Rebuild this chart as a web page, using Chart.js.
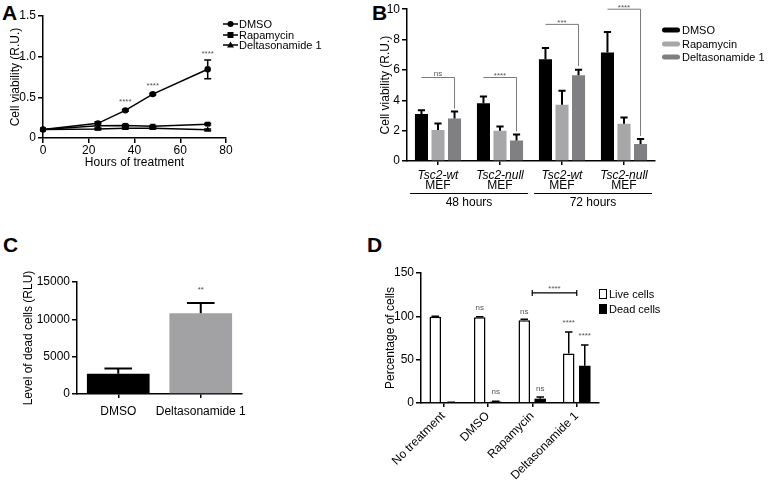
<!DOCTYPE html>
<html>
<head>
<meta charset="utf-8">
<script src="https://cdn.jsdelivr.net/npm/chart.js@4.4.0/dist/chart.umd.min.js"></script>
<style>
  html, body { margin: 0; padding: 0; background: #fff; }
  body { width: 768px; height: 481px; position: relative; overflow: hidden;
         font-family: 'Liberation Sans', Arial, Helvetica, sans-serif; color: #000; }
  canvas { position: absolute; }
  .letter { position: absolute; font-weight: bold; font-size: 21px; line-height: 1; }
  .lg { position: absolute; font-size: 11px; height: 12px; line-height: 12px; white-space: nowrap; }
  .lg svg { position: absolute; left: 0; top: 0; }
  .lg span { position: absolute; top: 0; }
</style>
</head>
<body>

<div class="letter" style="left:2px;top:2px">A</div>
<div class="letter" style="left:372px;top:2px">B</div>
<div class="letter" style="left:3px;top:234px">C</div>
<div class="letter" style="left:367px;top:234px">D</div>

<canvas id="chartA" width="370" height="172" style="left:0;top:0"></canvas>
<canvas id="chartB" width="398" height="215" style="left:370px;top:0"></canvas>
<canvas id="chartC" width="370" height="200" style="left:0;top:230px"></canvas>
<canvas id="chartD" width="398" height="251" style="left:370px;top:230px"></canvas>

<!-- legend A -->
<div class="lg" style="left:223px;top:18px">
  <svg width="16" height="12"><line x1="0" y1="6" x2="15" y2="6" stroke="#000" stroke-width="1.5"/><circle cx="7.5" cy="6" r="3" fill="#000"/></svg>
  <span style="left:16px">DMSO</span>
</div>
<div class="lg" style="left:223px;top:28.5px">
  <svg width="16" height="12"><line x1="0" y1="6" x2="15" y2="6" stroke="#000" stroke-width="1.5"/><rect x="4.5" y="3" width="6" height="6" fill="#000"/></svg>
  <span style="left:16px">Rapamycin</span>
</div>
<div class="lg" style="left:223px;top:39px">
  <svg width="16" height="12"><line x1="0" y1="6" x2="15" y2="6" stroke="#000" stroke-width="1.5"/><polygon points="7.5,2.5 11,8.5 4,8.5" fill="#000"/></svg>
  <span style="left:16px">Deltasonamide 1</span>
</div>

<!-- legend B -->
<div class="lg" style="left:662px;top:24px">
  <svg width="19" height="12"><rect x="0" y="3.5" width="18" height="5" rx="2.5" fill="#000"/></svg>
  <span style="left:20px">DMSO</span>
</div>
<div class="lg" style="left:662px;top:37.5px">
  <svg width="19" height="12"><rect x="0" y="3.5" width="18" height="5" rx="2.5" fill="#a7a7aa"/></svg>
  <span style="left:20px">Rapamycin</span>
</div>
<div class="lg" style="left:662px;top:51px">
  <svg width="19" height="12"><rect x="0" y="3.5" width="18" height="5" rx="2.5" fill="#808083"/></svg>
  <span style="left:20px">Deltasonamide 1</span>
</div>

<!-- legend D -->
<div class="lg" style="left:599px;top:288px">
  <svg width="9" height="12"><rect x="0.5" y="1.5" width="7" height="9" fill="#fff" stroke="#000" stroke-width="1"/></svg>
  <span style="left:10px">Live cells</span>
</div>
<div class="lg" style="left:599px;top:303px">
  <svg width="9" height="12"><rect x="0" y="1" width="8" height="10" fill="#000"/></svg>
  <span style="left:10px">Dead cells</span>
</div>

<script>
// ---- panel A: viability over time ----
const hoursA = [0, 24, 36, 48, 72];
const dmsoA = [0.105, 0.18, 0.34, 0.54, 0.845];
const dmsoErrA = [0, 0.02, 0.01, 0.01, 0.115];
const rapaA = [0.105, 0.15, 0.155, 0.145, 0.17];
const rapaErrA = [0, 0.03, 0.01, 0.01, 0.01];
const deltaA = [0.105, 0.11, 0.12, 0.12, 0.10];
const deltaErrA = [0, 0.01, 0.01, 0.01, 0.01];
const starsA = ['', '', '****', '****', '****'];
const starsYA = [null, null, 0.48, 0.67, 1.07];

// ---- panel B: viability per cell line ----
const cellLinesB = ['Tsc2-wt', 'Tsc2-null', 'Tsc2-wt', 'Tsc2-null'];
const sublabelB = 'MEF';
const timeLabelsB = ['48 hours', '72 hours'];
const timeSpanB = [[0, 1], [2, 3]];
const dmsoB = [3.1, 3.8, 6.7, 7.15];
const dmsoErrB = [0.25, 0.45, 0.75, 1.35];
const rapaB = [2.05, 2.0, 3.7, 2.45];
const rapaErrB = [0.42, 0.28, 0.92, 0.42];
const deltaB = [2.8, 1.35, 5.65, 1.12];
const deltaErrB = [0.46, 0.4, 0.36, 0.33];
const sigTextB = ['ns', '****', '***', '****'];
const sigYB = [5.5, 5.5, 9.0, 10.0];
const sigDropB = [3.45, 1.95, 6.25, 1.65];

// ---- panel C: dead cells ----
const catsC = ['DMSO', 'Deltasonamide 1'];
const deadC = [2700, 10800];
const deadErrC = [700, 1400];
const starsC = ['', '**'];
const starsYC = [null, 14300];

// ---- panel D: live / dead percentage ----
const treatmentsD = ['No treatment', 'DMSO', 'Rapamycin', 'Deltasonamide 1'];
const liveD = [99.5, 99, 95.5, 57];
const liveErrD = [0.5, 0.6, 1.2, 25];
const deadD = [0.6, 1.5, 5, 43];
const deadErrD = [0.3, 0.6, 1.8, 24];
const liveSigD = ['', 'ns', 'ns', '****'];
const liveSigYD = [null, 110, 105.5, 94.7];
const deadSigD = ['', 'ns', 'ns', '****'];
const deadSigYD = [null, 12.8, 16.6, 80.4];
const bracketIdxD = [2, 3];
const bracketYD = 127;
const bracketTextD = '****';
const bracketTextYD = 135;

const FONT = "'Liberation Sans', Arial, Helvetica, sans-serif";
Chart.defaults.font.family = FONT;
Chart.defaults.color = '#000';
Chart.defaults.animation = false;
Chart.defaults.plugins.legend.display = false;
Chart.defaults.plugins.tooltip.enabled = false;

// small grey significance text, centred on yc
function sigText(ctx, text, x, yc, size, color) {
    ctx.save();
    ctx.font = size + 'px ' + FONT;
    ctx.fillStyle = color || '#555';
    ctx.textAlign = 'center';
    ctx.textBaseline = 'alphabetic';
    const shift = text.indexOf('*') >= 0 ? 0.57 : 0.26;
    ctx.fillText(text, x, yc + shift * size);
    ctx.restore();
}

// error bars, drawn from the library's scale
const errorBars = {
    id: 'errorBars',
    afterDatasetsDraw(chart, args, opts) {
        const ctx = chart.ctx;
        const ys = chart.scales.y;
        ctx.save();
        ctx.strokeStyle = '#000';
        ctx.lineWidth = opts.lineWidth || 1.5;
        chart.data.datasets.forEach((ds, di) => {
            if (!ds.errors) return;
            const meta = chart.getDatasetMeta(di);
            meta.data.forEach((el, i) => {
                const raw = ds.data[i];
                const val = typeof raw === 'object' ? raw.y : raw;
                const e = ds.errors[i];
                if (!e) return;
                const top = ys.getPixelForValue(val + e);
                const bot = opts.both ? ys.getPixelForValue(val - e) : el.y;
                const cap = opts.capRatio ? el.width * opts.capRatio : opts.cap;
                ctx.beginPath();
                ctx.moveTo(el.x, bot);
                ctx.lineTo(el.x, top);
                ctx.moveTo(el.x - cap / 2, top);
                ctx.lineTo(el.x + cap / 2, top);
                if (opts.both) {
                    ctx.moveTo(el.x - cap / 2, bot);
                    ctx.lineTo(el.x + cap / 2, bot);
                }
                ctx.stroke();
            });
        });
        ctx.restore();
    }
};

function yAxis(min, max, step, title, width, titlePad, cb) {
    return {
        min: min, max: max,
        border: { color: '#000', width: 1.5 },
        grid: { drawOnChartArea: false, drawTicks: true, tickLength: 5, color: '#000', lineWidth: 1.5 },
        ticks: { stepSize: step, color: '#000', font: { size: 12 }, padding: 2, callback: cb },
        title: { display: true, text: title, font: { size: 12 }, padding: { top: titlePad, bottom: 0 } },
        afterFit: s => { s.width = width; }
    };
}

// ---- A ----
new Chart(document.getElementById('chartA'), {
    type: 'line',
    data: {
        datasets: [
            { label: 'Deltasonamide 1', data: hoursA.map((h, i) => ({ x: h, y: deltaA[i] })), errors: deltaErrA,
              pointStyle: 'triangle', pointRadius: 3.5 },
            { label: 'Rapamycin', data: hoursA.map((h, i) => ({ x: h, y: rapaA[i] })), errors: rapaErrA,
              pointStyle: 'rect', pointRadius: 3.5 },
            { label: 'DMSO', data: hoursA.map((h, i) => ({ x: h, y: dmsoA[i] })), errors: dmsoErrA,
              pointStyle: 'circle', pointRadius: 3.2 }
        ].map(d => Object.assign(d, {
            borderColor: '#000', borderWidth: 1.5, backgroundColor: '#000',
            pointBackgroundColor: '#000', pointBorderColor: '#000', pointBorderWidth: 0, clip: false
        }))
    },
    options: {
        responsive: false,
        layout: { padding: { left: 0, right: 144, top: 16, bottom: 0 } },
        scales: {
            x: {
                type: 'linear', min: 0, max: 80,
                border: { color: '#000', width: 1.5 },
                grid: { drawOnChartArea: false, drawTicks: true, tickLength: 5, color: '#000', lineWidth: 1.5 },
                ticks: { stepSize: 20, color: '#000', font: { size: 12 }, padding: 0 },
                title: { display: true, text: 'Hours of treatment', font: { size: 12 }, padding: { top: 0, bottom: 2 } },
                afterFit: s => { s.height = 34; }
            },
            y: yAxis(0, 1.5, 0.5, 'Cell viability (R.U.)', 43, 8, v => v === 0 ? '0' : v.toFixed(1))
        },
        plugins: { errorBars: { both: true, cap: 7, lineWidth: 1.5 } }
    },
    plugins: [errorBars, {
        id: 'starsA',
        afterDraw(chart) {
            const xs = chart.scales.x, ys = chart.scales.y;
            starsA.forEach((t, i) => {
                if (!t) return;
                sigText(chart.ctx, t, xs.getPixelForValue(hoursA[i]), ys.getPixelForValue(starsYA[i]), 8);
            });
        }
    }]
});

// ---- B ----
new Chart(document.getElementById('chartB'), {
    type: 'bar',
    data: {
        labels: cellLinesB,
        datasets: [
            { label: 'DMSO', data: dmsoB, errors: dmsoErrB, backgroundColor: '#000' },
            { label: 'Rapamycin', data: rapaB, errors: rapaErrB, backgroundColor: '#a7a7aa' },
            { label: 'Deltasonamide 1', data: deltaB, errors: deltaErrB, backgroundColor: '#808083' }
        ].map(d => Object.assign(d, { categoryPercentage: 0.8, barPercentage: 0.79 }))
    },
    options: {
        responsive: false,
        layout: { padding: { left: 0, right: 113, top: 9, bottom: 0 } },
        scales: {
            x: {
                border: { color: '#000', width: 1.5 },
                grid: { offset: false, drawOnChartArea: false, drawTicks: true, tickLength: 4, color: '#000', lineWidth: 1.5 },
                ticks: { display: false },
                afterFit: s => { s.height = 54; }
            },
            y: yAxis(0, 10, 2, 'Cell viability (R.U.)', 37, 8)
        },
        plugins: { errorBars: { capRatio: 0.55, lineWidth: 2 } }
    },
    plugins: [errorBars, {
        id: 'annotB',
        afterDraw(chart) {
            const ctx = chart.ctx, xs = chart.scales.x, ys = chart.scales.y;
            const m0 = chart.getDatasetMeta(0), m2 = chart.getDatasetMeta(2);
            ctx.save();
            sigTextB.forEach((t, i) => {
                const x1 = m0.data[i].x, x2 = m2.data[i].x;
                const yl = ys.getPixelForValue(sigYB[i]);
                const yd = ys.getPixelForValue(sigDropB[i]);
                ctx.strokeStyle = '#7a7a7a';
                ctx.lineWidth = 1;
                ctx.beginPath();
                ctx.moveTo(x1, yl);
                ctx.lineTo(x2, yl);
                ctx.lineTo(x2, yd);
                ctx.stroke();
                sigText(ctx, t, (x1 + x2) / 2, yl - 4, 8);
            });
            // category labels
            ctx.fillStyle = '#000';
            ctx.textAlign = 'center';
            ctx.textBaseline = 'middle';
            cellLinesB.forEach((name, i) => {
                const x = xs.getPixelForValue(i);
                ctx.font = 'italic 12px ' + FONT;
                ctx.fillText(name, x, xs.top + 14.5);
                ctx.font = '12px ' + FONT;
                ctx.fillText(sublabelB, x, xs.top + 25);
            });
            // time groups
            const half = (xs.getPixelForValue(1) - xs.getPixelForValue(0)) * 0.45;
            timeLabelsB.forEach((lab, k) => {
                const xa = xs.getPixelForValue(timeSpanB[k][0]) - half;
                const xb = xs.getPixelForValue(timeSpanB[k][1]) + half;
                ctx.strokeStyle = '#000';
                ctx.lineWidth = 1;
                ctx.beginPath();
                ctx.moveTo(xa, xs.top + 32.5);
                ctx.lineTo(xb, xs.top + 32.5);
                ctx.stroke();
                ctx.font = '12px ' + FONT;
                ctx.fillText(lab, (xa + xb) / 2, xs.top + 42);
            });
            ctx.restore();
        }
    }]
});

// ---- C ----
new Chart(document.getElementById('chartC'), {
    type: 'bar',
    data: {
        labels: catsC,
        datasets: [{ data: deadC, errors: deadErrC, backgroundColor: ['#000', '#a2a2a5'],
                     categoryPercentage: 1, barPercentage: 0.76 }]
    },
    options: {
        responsive: false,
        layout: { padding: { left: 0, right: 128, top: 52, bottom: 0 } },
        scales: {
            x: {
                border: { color: '#000', width: 1.5 },
                grid: { offset: false, drawOnChartArea: false, drawTicks: true, tickLength: 4, color: '#000', lineWidth: 1.5 },
                ticks: { color: '#000', font: { size: 12 }, padding: 6, autoSkip: false, minRotation: 0, maxRotation: 0 },
                afterFit: s => { s.height = 36; }
            },
            y: yAxis(0, 15000, 5000, 'Level of dead cells (RLU)', 77, 21)
        },
        plugins: { errorBars: { capRatio: 0.44, lineWidth: 2 } }
    },
    plugins: [errorBars, {
        id: 'starsC',
        afterDraw(chart) {
            const meta = chart.getDatasetMeta(0), ys = chart.scales.y;
            starsC.forEach((t, i) => {
                if (!t) return;
                sigText(chart.ctx, t, meta.data[i].x, ys.getPixelForValue(starsYC[i]), 8);
            });
        }
    }]
});

// ---- D ----
new Chart(document.getElementById('chartD'), {
    type: 'bar',
    data: {
        labels: treatmentsD,
        datasets: [
            { label: 'Live cells', data: liveD, errors: liveErrD, backgroundColor: '#fff',
              borderColor: '#000', borderWidth: 1.5 },
            { label: 'Dead cells', data: deadD, errors: deadErrD, backgroundColor: '#000' }
        ].map(d => Object.assign(d, { categoryPercentage: 0.72, barPercentage: 0.72 }))
    },
    options: {
        responsive: false,
        layout: { padding: { left: 0, right: 169, top: 43, bottom: 0 } },
        scales: {
            x: {
                border: { color: '#000', width: 1.5 },
                grid: { offset: false, drawOnChartArea: false, drawTicks: true, tickLength: 4, color: '#000', lineWidth: 1.5 },
                ticks: { color: '#000', font: { size: 12 }, padding: 2, minRotation: 45, maxRotation: 45, autoSkip: false },
                afterFit: s => { s.height = 78; }
            },
            y: yAxis(0, 150, 50, 'Percentage of cells', 51, 13)
        },
        plugins: { errorBars: { capRatio: 0.65, lineWidth: 1.5 } }
    },
    plugins: [errorBars, {
        id: 'annotD',
        afterDraw(chart) {
            const ctx = chart.ctx, xs = chart.scales.x, ys = chart.scales.y;
            const mLive = chart.getDatasetMeta(0), mDead = chart.getDatasetMeta(1);
            liveSigD.forEach((t, i) => {
                if (t) sigText(ctx, t, mLive.data[i].x, ys.getPixelForValue(liveSigYD[i]), 8);
            });
            deadSigD.forEach((t, i) => {
                if (t) sigText(ctx, t, mDead.data[i].x, ys.getPixelForValue(deadSigYD[i]), 8);
            });
            const xa = xs.getPixelForValue(bracketIdxD[0]);
            const xb = xs.getPixelForValue(bracketIdxD[1]);
            const yb = ys.getPixelForValue(bracketYD);
            ctx.save();
            ctx.strokeStyle = '#000';
            ctx.lineWidth = 1.2;
            ctx.beginPath();
            ctx.moveTo(xa, yb); ctx.lineTo(xb, yb);
            ctx.moveTo(xa, yb - 3); ctx.lineTo(xa, yb + 3);
            ctx.moveTo(xb, yb - 3); ctx.lineTo(xb, yb + 3);
            ctx.stroke();
            ctx.restore();
            sigText(ctx, bracketTextD, (xa + xb) / 2, ys.getPixelForValue(bracketTextYD), 8);
        }
    }]
});
</script>
</body>
</html>
